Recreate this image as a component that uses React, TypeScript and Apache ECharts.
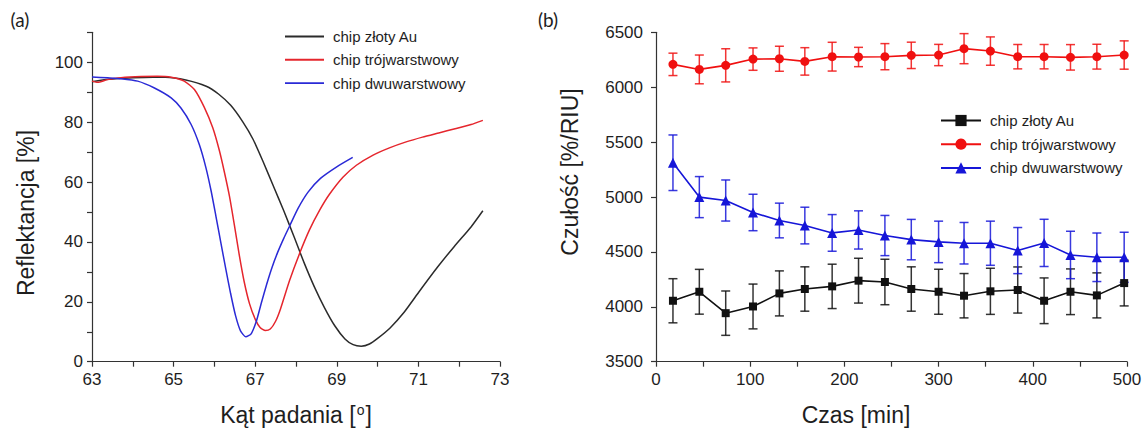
import React, { useEffect, useRef } from "react";
import * as echarts from "echarts";

// ---------- Panel (a): reflectance curves ----------
const goldCurve: number[][] = [
  [63.0, 93.5], [63.4, 94.3], [64.0, 94.8], [64.5, 95.0], [64.8, 95.0], [65.3, 94.1],
  [65.8, 92.0], [66.1, 89.4], [66.4, 85.6], [66.7, 80.0], [66.95, 74.2], [67.2, 66.6],
  [67.45, 58.5], [67.7, 50.4], [67.95, 41.8], [68.2, 33.0], [68.45, 25.0], [68.7, 18.0],
  [68.95, 12.0], [69.2, 7.6], [69.4, 5.7], [69.6, 5.2], [69.8, 5.9], [70.0, 7.8],
  [70.3, 11.2], [70.65, 16.5], [71.03, 23.6], [71.47, 31.6], [71.88, 38.5], [72.29, 45.0],
  [72.58, 50.4],
];
const triCurve: number[][] = [
  [63.0, 93.7], [63.14, 93.3], [63.38, 94.2], [63.71, 94.8], [64.2, 95.2], [64.6, 95.3],
  [64.94, 95.0], [65.26, 93.7], [65.51, 90.9], [65.75, 85.0], [65.96, 78.1], [66.12, 70.6],
  [66.24, 63.6], [66.37, 55.2], [66.49, 45.6], [66.61, 35.6], [66.73, 26.7], [66.86, 19.4],
  [67.0, 14.2], [67.12, 11.4], [67.25, 10.4], [67.37, 10.9], [67.5, 13.5], [67.62, 17.6],
  [67.84, 27.0], [68.09, 36.2], [68.33, 44.0], [68.58, 50.6], [68.82, 55.9], [69.15, 61.6],
  [69.48, 65.6], [69.89, 69.0], [70.29, 71.4], [70.7, 73.4], [71.1, 75.0], [71.5, 76.4],
  [71.9, 77.8], [72.29, 79.2], [72.58, 80.6],
];
const biCurve: number[][] = [
  [63.0, 95.1], [63.38, 94.8], [63.71, 94.5], [64.12, 93.7], [64.53, 91.4], [64.94, 88.1],
  [65.18, 84.7], [65.43, 79.2], [65.63, 72.5], [65.79, 64.9], [65.92, 57.0], [66.04, 48.4],
  [66.16, 39.6], [66.28, 30.9], [66.4, 22.6], [66.52, 15.3], [66.64, 10.3], [66.77, 8.3],
  [66.9, 9.3], [67.03, 13.6], [67.15, 19.6], [67.28, 25.8], [67.41, 31.4], [67.55, 36.5],
  [67.7, 41.2], [67.85, 45.5], [68.05, 51.2], [68.3, 56.7], [68.6, 61.2], [68.98, 64.9],
  [69.39, 68.2],
];

// ---------- Panel (b): sensitivity vs time ----------
const times = [18, 46, 74, 103, 131, 158, 187, 215, 243, 271, 300, 327, 355, 384, 412, 440, 468, 497];
const goldSens = [4055, 4137, 3942, 4003, 4122, 4162, 4186, 4238, 4226, 4162, 4137, 4101, 4141, 4153, 4055, 4137, 4104, 4216];
const goldErr = [201, 204, 202, 204, 205, 202, 202, 204, 207, 202, 205, 202, 210, 210, 208, 208, 205, 208];
const triSens = [6208, 6162, 6199, 6256, 6259, 6235, 6278, 6275, 6278, 6290, 6293, 6351, 6329, 6278, 6278, 6272, 6278, 6293];
const triErr = [102, 131, 151, 102, 114, 125, 131, 88, 119, 120, 97, 137, 129, 111, 111, 116, 113, 129];
const biSens = [5312, 4999, 4968, 4859, 4786, 4740, 4673, 4700, 4649, 4612, 4591, 4579, 4579, 4512, 4582, 4472, 4451, 4451];
const biErr = [253, 187, 187, 166, 158, 167, 167, 174, 183, 184, 189, 189, 201, 210, 215, 216, 221, 228];

const seriesNames = ["chip złoty Au", "chip trójwarstwowy", "chip dwuwarstwowy"];
const curveColors = ["#2b2b2b", "#e5262d", "#2a2ad6"];
const pointColors = ["#111111", "#f01010", "#1616d8"];
const symbols = ["rect", "circle", "triangle"];
const symbolSizes = [8, 9, 10];

const FONT = "'Liberation Sans', Arial, sans-serif";
const TXT = "#1e1e1e";
const AXIS = "#333333";
const LINE_ICON = "path://M0,0H40V2H0Z";

const axisCommon = {
  axisLine: { show: true, lineStyle: { color: AXIS, width: 1.2 } },
  axisTick: { show: true, inside: false, length: 5, lineStyle: { color: AXIS, width: 1.2 } },
  splitLine: { show: false },
};

function App() {
  const ref = useRef<HTMLDivElement>(null);
  useEffect(() => {
    if (!ref.current) return;
    const chart = echarts.init(ref.current, undefined, { renderer: "svg" });

    const bPrefix = "b:";
    const curves = [goldCurve, triCurve, biCurve];
    const sens = [goldSens, triSens, biSens];
    const errs = [goldErr, triErr, biErr];

    const errorSeries = sens.map((vals, k) => ({
      type: "custom",
      name: "err" + k,
      xAxisIndex: 1,
      yAxisIndex: 1,
      z: 2,
      encode: { x: 0, y: 1 },
      data: times.map((t, i) => [t, vals[i], errs[k][i]]),
      renderItem: (params: any, api: any) => {
        const x = api.value(0);
        const y = api.value(1);
        const e = api.value(2);
        const p1 = api.coord([x, y + e]);
        const p2 = api.coord([x, y - e]);
        const w = 4.5;
        const style = { stroke: pointColors[k], lineWidth: 1.5, opacity: 0.85 };
        return {
          type: "group",
          children: [
            { type: "line", shape: { x1: p1[0], y1: p1[1], x2: p2[0], y2: p2[1] }, style },
            { type: "line", shape: { x1: p1[0] - w, y1: p1[1], x2: p1[0] + w, y2: p1[1] }, style },
            { type: "line", shape: { x1: p2[0] - w, y1: p2[1], x2: p2[0] + w, y2: p2[1] }, style },
          ],
        };
      },
    }));

    const option: any = {
      animation: false,
      backgroundColor: "#ffffff",
      textStyle: { fontFamily: FONT },
      grid: [
        { left: 92, top: 32.3, width: 408, height: 329.4 },
        { left: 656, top: 32.3, width: 471, height: 329.4 },
      ],
      xAxis: [
        {
          type: "value", gridIndex: 0, min: 63, max: 73, interval: 1,
          ...axisCommon,
          axisLabel: {
            margin: 9, fontSize: 17, color: TXT, fontFamily: FONT,
            formatter: (v: number) => ((v - 63) % 2 === 0 ? String(v) : ""),
          },
        },
        {
          type: "value", gridIndex: 1, min: 0, max: 500, interval: 50,
          ...axisCommon,
          axisLabel: {
            margin: 9, fontSize: 17, color: TXT, fontFamily: FONT,
            formatter: (v: number) => (v % 100 === 0 ? String(v) : ""),
          },
        },
      ],
      yAxis: [
        {
          type: "value", gridIndex: 0, min: 0, max: 110, interval: 10,
          ...axisCommon,
          axisLabel: {
            margin: 9, fontSize: 17, color: TXT, fontFamily: FONT,
            formatter: (v: number) => (v % 20 === 0 && v <= 100 ? String(v) : ""),
          },
        },
        {
          type: "value", gridIndex: 1, min: 3500, max: 6500, interval: 500,
          ...axisCommon,
          axisLabel: {
            margin: 13, fontSize: 17, color: TXT, fontFamily: FONT,
            formatter: (v: number) => String(v),
          },
        },
      ],
      legend: [
        {
          orient: "vertical", left: 280, top: 24, itemWidth: 39, itemHeight: 14, itemGap: 8.3,
          data: seriesNames.map((n) => ({ name: n, icon: LINE_ICON })),
          textStyle: { fontSize: 15, color: TXT, fontFamily: FONT, lineHeight: 14, padding: [0, 0, 0, 4] },
          selectedMode: false,
        },
        {
          orient: "vertical", left: 935, top: 108, itemWidth: 40, itemHeight: 14, itemGap: 8.7,
          data: seriesNames.map((n) => bPrefix + n),
          formatter: (n: string) => n.replace(bPrefix, ""),
          lineStyle: { width: 2 },
          textStyle: { fontSize: 15, color: TXT, fontFamily: FONT, lineHeight: 14, padding: [0, 0, 0, 4] },
          selectedMode: false,
        },
      ],
      graphic: [
        { type: "text", x: 20, y: 19, style: { text: "(a)", font: "19px Lato, 'Open Sans', sans-serif", fill: TXT, align: "center", verticalAlign: "middle" } },
        { type: "text", x: 548, y: 19, style: { text: "(b)", font: "19px Lato, 'Open Sans', sans-serif", fill: TXT, align: "center", verticalAlign: "middle" } },
        { type: "text", x: 26, y: 213, rotation: Math.PI / 2, style: { text: "Reflektancja [%]", font: `23px ${FONT}`, fill: TXT, align: "center", verticalAlign: "middle" } },
        { type: "text", x: 570, y: 172, rotation: Math.PI / 2, style: { text: "Czułość [%/RIU]", font: `23px ${FONT}`, fill: TXT, align: "center", verticalAlign: "middle" } },
        {
          type: "text", x: 296, y: 415,
          style: {
            text: "Kąt padania [{sup|o}]", font: `23px ${FONT}`, fill: TXT, align: "center", verticalAlign: "middle",
            rich: { sup: { fontSize: 14, fontFamily: FONT, fill: TXT, padding: [0, 1, 10, 1] } },
          },
        },
        { type: "text", x: 856, y: 415, style: { text: "Czas [min]", font: `23px ${FONT}`, fill: TXT, align: "center", verticalAlign: "middle" } },
      ],
      series: [
        ...curves.map((c, k) => ({
          type: "line",
          name: seriesNames[k],
          xAxisIndex: 0,
          yAxisIndex: 0,
          data: c,
          smooth: 0.2,
          symbol: "none",
          z: 3 + k,
          lineStyle: { color: curveColors[k], width: 1.5 },
          itemStyle: { color: curveColors[k] },
        })),
        ...errorSeries,
        ...sens.map((vals, k) => ({
          type: "line",
          name: bPrefix + seriesNames[k],
          xAxisIndex: 1,
          yAxisIndex: 1,
          data: times.map((t, i) => [t, vals[i]]),
          symbol: symbols[k],
          symbolSize: symbolSizes[k],
          showSymbol: true,
          z: 4,
          lineStyle: { color: pointColors[k], width: 1.6 },
          itemStyle: { color: pointColors[k] },
        })),
      ],
    };
    chart.setOption(option);
    return () => chart.dispose();
  }, []);
  return (
    <div
      ref={ref}
      style={{ position: "fixed", left: 0, top: 0, width: 1145, height: 430, background: "#fff" }}
    />
  );
}

export default App;
